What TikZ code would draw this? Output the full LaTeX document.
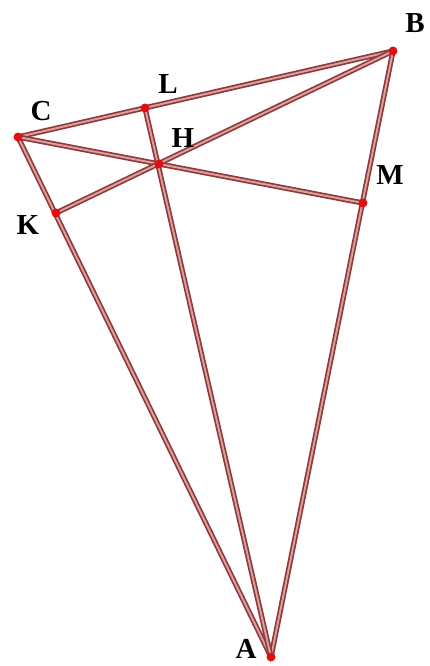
\documentclass[tikz,border=0pt]{standalone}
\usepackage{fontspec}
\setmainfont{Liberation Serif}
\definecolor{edge}{HTML}{8E3A3A}
\definecolor{inner}{HTML}{DDA0A0}
\definecolor{pt}{HTML}{E01010}
\begin{document}
\begin{tikzpicture}[x=1pt,y=-1pt,
  seg/.style={draw=edge,line width=1.7pt,double=inner,double distance=1.9pt},
  pnt/.style={circle,fill=pt,inner sep=0pt,minimum size=9pt},
  lab/.style={font=\fontsize{29}{29}\selectfont\bfseries,inner sep=0pt,anchor=center}]
\useasboundingbox (0,0) rectangle (430,666);
\coordinate (A) at (271,657);
\coordinate (B) at (393,51);
\coordinate (C) at (18,137);
\coordinate (L) at (145,108);
\coordinate (H) at (159,164);
\coordinate (K) at (56,213);
\coordinate (M) at (363,203);
\draw[seg] (C) -- (B);
\draw[seg] (C) -- (A);
\draw[seg] (B) -- (A);
\draw[seg] (C) -- (M);
\draw[seg] (K) -- (B);
\draw[seg] (L) -- (A);
\foreach \p in {A,B,C,L,H,K,M} \node[pnt] (d\p) at (\p) {};
\node[lab] (lB) at (415,23) {B};
\node[lab] (lL) at (168,84) {L};
\node[lab] (lC) at (41,111) {C};
\node[lab] (lH) at (183,138) {H};
\node[lab] (lM) at (390,175) {M};
\node[lab] (lK) at (28,225) {K};
\node[lab] (lA) at (246,649) {A};
\end{tikzpicture}
\end{document}
